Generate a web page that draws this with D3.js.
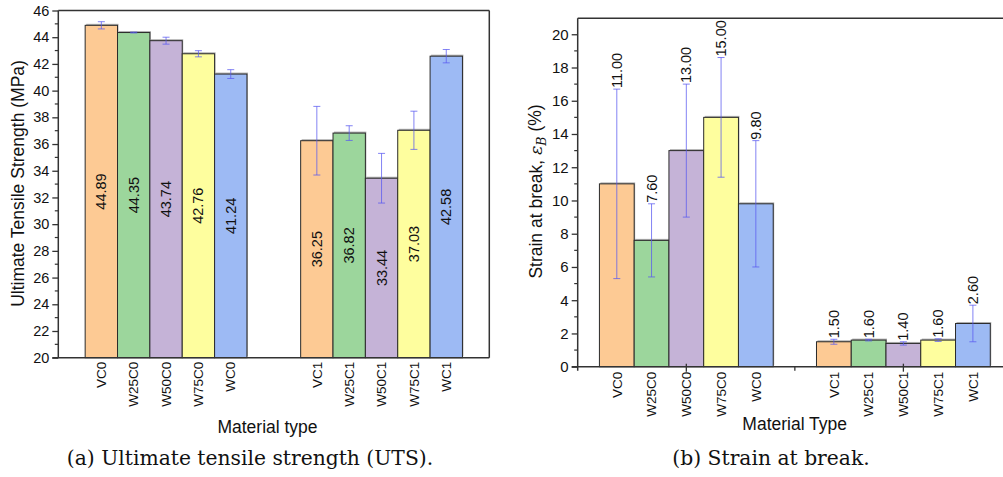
<!DOCTYPE html>
<html>
<head>
  <meta charset="utf-8">
  <script src="https://d3js.org/d3.v7.min.js"></script>
  <style>
    body { margin: 0; background: #fff; }
    svg { display: block; font-family: Arial, "Liberation Sans", sans-serif; }
    .caption { font-family: "DejaVu Serif", serif; }
  </style>
</head>
<body>
  <svg id="chart" width="1003" height="477"></svg>
  <script>
    // materials, two groups of five
    const group0 = ["VC0", "W25C0", "W50C0", "W75C0", "WC0"]
    const group1 = ["VC1", "W25C1", "W50C1", "W75C1", "WC1"]
    const barColors = ["#fdca94", "#9cd69c", "#c5b3d7", "#fefe9e", "#9dbaf4"]

    // (a) ultimate tensile strength, MPa
    const utsValues = [44.89, 44.35, 43.74, 42.76, 41.24, 36.25, 36.82, 33.44, 37.03, 42.58]
    const utsErrors = [0.27, 0.03, 0.26, 0.23, 0.33, 2.57, 0.55, 1.86, 1.43, 0.5]
    const utsTicks = d3.range(20, 47, 2)

    // (b) strain at break, %
    const strainValues = [11.00, 7.60, 13.00, 15.00, 9.80, 1.50, 1.60, 1.40, 1.60, 2.60]
    const strainErrors = [5.7, 2.2, 4.0, 3.6, 3.8, 0.15, 0.05, 0.1, 0.08, 1.1]
    const strainTicks = d3.range(0, 21, 2)

    const svg = d3.select("#chart")
    const errColor = "#5a5af0"

    function rows(values, errors, gap) {
      const names = group0.concat(group1)
      return names.map((n, i) => ({
        name: n,
        value: values[i],
        err: errors[i],
        pos: i < 5 ? i : i - 5 + gap,
        color: barColors[i % 5]
      }))
    }

    function drawPanel(cfg) {
      const data = rows(cfg.values, cfg.errors, cfg.gap)
      const x = d3.scaleLinear().domain(cfg.xDomain).range([cfg.left, cfg.right])
      const y = d3.scaleLinear().domain(cfg.yDomain).range([cfg.bottom, cfg.top])
      const bw = x(1) - x(0)
      const g = svg.append("g")

      // bars with a faint shadow
      g.selectAll(".shadow")
        .data(data)
        .enter()
        .append("rect")
        .attr("x", d => x(d.pos) - bw / 2 + 1)
        .attr("y", d => y(d.value) - 1.5)
        .attr("width", bw)
        .attr("height", d => y(cfg.yDomain[0]) - y(d.value))
        .attr("fill", "#b0b0b0")

      g.selectAll(".bar")
        .data(data)
        .enter()
        .append("rect")
        .attr("x", d => x(d.pos) - bw / 2)
        .attr("y", d => y(d.value))
        .attr("width", bw)
        .attr("height", d => y(cfg.yDomain[0]) - y(d.value))
        .attr("fill", d => d.color)
        .attr("stroke", "#2b2b2b")
        .attr("stroke-width", 1)

      // error bars
      const eg = g.selectAll(".err")
        .data(data)
        .enter()
        .append("g")
        .attr("stroke", errColor)
        .attr("stroke-opacity", 0.75)
        .attr("stroke-width", 1)
      eg.append("line")
        .attr("x1", d => x(d.pos)).attr("x2", d => x(d.pos))
        .attr("y1", d => y(d.value + d.err)).attr("y2", d => y(d.value - d.err))
      eg.append("line")
        .attr("x1", d => x(d.pos) - 3.5).attr("x2", d => x(d.pos) + 3.5)
        .attr("y1", d => y(d.value + d.err)).attr("y2", d => y(d.value + d.err))
      eg.append("line")
        .attr("x1", d => x(d.pos) - 3.5).attr("x2", d => x(d.pos) + 3.5)
        .attr("y1", d => y(d.value - d.err)).attr("y2", d => y(d.value - d.err))

      // value labels
      g.selectAll(".val")
        .data(data)
        .enter()
        .append("text")
        .attr("transform", d => {
          const ty = cfg.labelInside ? y((d.value + cfg.yDomain[0]) / 2) : y(d.value + d.err) - 1
          return `translate(${x(d.pos)},${ty}) rotate(-90)`
        })
        .attr("dy", "0.35em")
        .attr("text-anchor", cfg.labelInside ? "middle" : "start")
        .attr("font-size", "14.5px")
        .attr("fill", "#111")
        .text(d => d.value.toFixed(2))

      // y axis
      const yAxis = d3.axisLeft(y).tickValues(cfg.yTicks).tickSize(6).tickPadding(3)
      const ya = g.append("g").attr("transform", `translate(${cfg.left},0)`).call(yAxis)
      ya.select(".domain").remove()
      ya.selectAll("text").attr("font-size", cfg.tickFont).attr("fill", "#111")
      ya.selectAll("line").attr("stroke", "#333").attr("stroke-width", 1.3)
      g.append("g").selectAll("line")
        .data(cfg.yTicks.slice(0, -1).map(t => t + 1))
        .enter()
        .append("line")
        .attr("x1", cfg.left - 3.5).attr("x2", cfg.left)
        .attr("y1", d => y(d)).attr("y2", d => y(d))
        .attr("stroke", "#333").attr("stroke-width", 1.2)

      // frame / axis lines
      const frame = g.append("g").attr("fill", "none").attr("stroke", "#333").attr("stroke-width", 1.5)
      frame.append("line").attr("x1", cfg.left).attr("x2", cfg.left).attr("y1", cfg.top).attr("y2", cfg.bottom + cfg.axisOvershoot)
      frame.append("line").attr("x1", cfg.left - 6).attr("x2", cfg.right).attr("y1", cfg.bottom).attr("y2", cfg.bottom)
      frame.append("line").attr("x1", cfg.left).attr("x2", cfg.right).attr("y1", cfg.top).attr("y2", cfg.top)
      frame.append("line").attr("x1", cfg.right).attr("x2", cfg.right).attr("y1", cfg.top).attr("y2", cfg.bottom)

      if (cfg.xTicks) {
        const mid = (4 + cfg.gap) / 2
        g.append("g").selectAll("line")
          .data([2, mid, cfg.gap + 2])
          .enter()
          .append("line")
          .attr("x1", d => x(d)).attr("x2", d => x(d))
          .attr("y1", d => d === mid ? cfg.bottom : cfg.bottom - 3)
          .attr("y2", d => d === mid ? cfg.bottom + 4 : cfg.bottom + 5)
          .attr("stroke", "#333").attr("stroke-width", 1.3)
      }

      // category labels
      g.selectAll(".cat")
        .data(data)
        .enter()
        .append("text")
        .attr("transform", d => `translate(${x(d.pos)},${cfg.bottom + cfg.catOffset}) rotate(-90)`)
        .attr("dy", "0.35em")
        .attr("text-anchor", "end")
        .attr("font-size", "13.5px")
        .attr("fill", "#111")
        .text(d => d.name)

      // x title
      g.append("text")
        .attr("x", cfg.xTitleX)
        .attr("y", cfg.xTitleY)
        .attr("text-anchor", "middle")
        .attr("font-size", "17.5px")
        .attr("fill", "#111")
        .text(cfg.xTitle)

      return g
    }

    // panel (a)
    const ga = drawPanel({
      values: utsValues, errors: utsErrors, gap: 6.66,
      xDomain: [-1.33, 11.99], yDomain: [20, 46], yTicks: utsTicks,
      left: 58.3, right: 489.3, top: 10.5, bottom: 357.7,
      labelInside: true, tickFont: "14.5px", axisOvershoot: 0,
      catOffset: 4, xTicks: false,
      xTitle: "Material type", xTitleX: 267.5, xTitleY: 433
    })
    ga.append("text")
      .attr("transform", "translate(18,183.5) rotate(-90)")
      .attr("dy", "0.35em")
      .attr("text-anchor", "middle")
      .attr("font-size", "17.5px")
      .attr("fill", "#111")
      .text("Ultimate Tensile Strength (MPa)")

    // panel (b)
    const gb = drawPanel({
      values: strainValues, errors: strainErrors, gap: 6.245,
      xDomain: [-1.125, 11.37], yDomain: [0, 20.96], yTicks: strainTicks,
      left: 577.7, right: 1012, top: 18.3, bottom: 366.7,
      labelInside: false, tickFont: "15px", axisOvershoot: 4,
      catOffset: 5, xTicks: true,
      xTitle: "Material Type", xTitleX: 794.7, xTitleY: 430
    })
    const yl = gb.append("text")
      .attr("transform", "translate(536,191.5) rotate(-90)")
      .attr("dy", "0.35em")
      .attr("text-anchor", "middle")
      .attr("font-size", "17.5px")
      .attr("fill", "#111")
    yl.append("tspan").text("Strain at break, ")
    yl.append("tspan").attr("font-family", "DejaVu Serif, serif").attr("font-style", "italic").text("ε")
    yl.append("tspan").attr("font-family", "DejaVu Serif, serif").attr("font-style", "italic")
      .attr("font-size", "12.5px").attr("dy", "0.3em").text("B")
    yl.append("tspan").attr("dy", "-0.3em").text(" (%)")

    // captions
    svg.append("text").attr("class", "caption")
      .attr("x", 250).attr("y", 465)
      .attr("text-anchor", "middle")
      .attr("font-size", "20.3px")
      .attr("fill", "#111")
      .text("(a) Ultimate tensile strength (UTS).")
    svg.append("text").attr("class", "caption")
      .attr("x", 771).attr("y", 465)
      .attr("text-anchor", "middle")
      .attr("font-size", "20.3px")
      .attr("fill", "#111")
      .text("(b) Strain at break.")
  </script>
</body>
</html>
